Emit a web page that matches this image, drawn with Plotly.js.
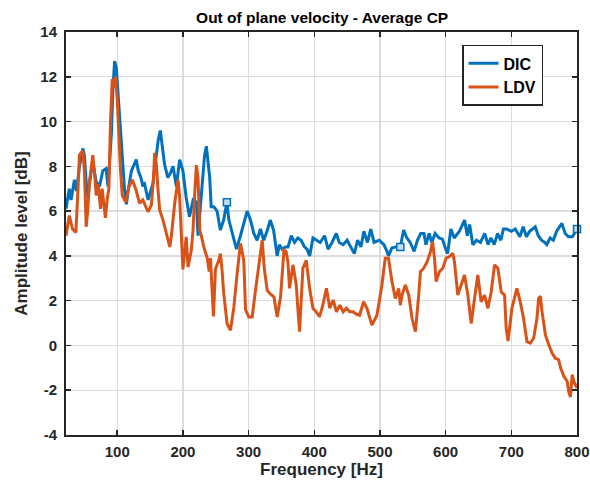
<!DOCTYPE html>
<html>
<head>
<meta charset="utf-8">
<script src="https://cdn.plot.ly/plotly-3.0.1.min.js"></script>
<style>html,body{margin:0;padding:0;background:#fff;}#chart{width:590px;height:489px;}</style>
</head>
<body>
<div id="chart"></div>
<script>
// DIC series (frequency in Hz, amplitude in dB)
const dicFreq = [22,24.6,27,29.7,34.8,38,42.5,47.6,50,52.7,55.3,58,62.8,68,73,78,83,86,88.4,91,93.5,96,98.6,101,103.7,106,108.8,111,114,116.5,121.6,126.7,129,132,136,139,141,144,147,151,154.5,157,159.5,162.5,165.6,168.5,172,177,181,185,190,195,200,205,210,215.5,220.6,223,228,231,233,235.7,238,240.8,243,247,252,257,262,265,267,270,275,281.5,287.6,293,297.8,302.9,308,313,318,323,328,333,338,343.5,347,351,356,360,365,370,375,380,385,389,393,398,403,409,415.7,421,427,433.5,438,444,450,456,461,466,471,475.5,481,486,491,499,506,510.7,513,518,524,531,536,541,546,552,557,562,567,570,575,579,584,590,595,600.7,603,608,613,621,628.8,633,636.5,641.4,647,653,659.5,664.5,669,674,679,684,688,693,700,706,713,718,723,728,736.5,741,746,751,754,759,764,769,777,782,787,793,800];
const dicVal  = [6.1,6.7,7.0,6.5,7.4,6.9,8.0,8.8,8.5,7.3,6.6,7.3,8.2,7.3,7.1,7.8,7.9,7.1,8.3,9.4,11.5,12.7,12.4,11.4,10.4,9.2,8.2,7.0,6.3,6.9,7.8,8.2,8.3,7.8,7.5,7.1,7.3,6.9,6.5,6.9,7.25,7.9,8.6,9.2,9.6,8.8,8.1,7.5,7.7,8.0,7.1,8.3,7.8,6.6,5.75,6.5,6.4,4.9,6.6,7.8,8.5,8.9,8.3,7.5,6.2,6.2,6.0,5.15,5.6,6.0,6.4,5.6,5.0,4.3,4.9,5.5,6.0,5.6,5.0,4.7,5.2,4.7,5.1,5.6,5.15,4.0,4.5,4.3,4.4,4.4,4.9,4.6,4.8,4.7,4.4,4.3,4.0,4.8,4.7,4.6,4.9,4.3,4.6,5.0,4.6,4.5,4.7,4.4,4.1,4.7,4.4,5.1,4.6,5.2,4.6,4.7,4.5,4.2,4.0,4.35,4.4,4.4,5.15,4.8,4.6,4.2,4.7,5.0,5.0,4.5,5.0,4.6,5.0,4.8,4.75,4.25,4.1,5.2,4.8,5.1,5.6,4.9,5.4,4.5,4.7,4.6,5.0,4.5,4.8,4.5,5.0,4.7,5.2,5.2,5.1,5.2,4.85,5.3,4.85,5.1,5.3,4.9,4.7,4.6,4.5,4.8,4.7,5.1,5.45,5.0,4.85,4.85,5.2];
// indices of DIC points drawn with square markers
const dicMarkerIdx = [70, 121, 172];

// LDV series
const ldvFreq = [22,27,32,37,40,42.5,47.6,50,52.7,55,57.8,62.8,66,68,71,74.6,77,82,85,87.3,89.8,92.4,95,97.5,100,102.6,105,107.7,112.8,118,123,128,132,134,139,143,146.8,152,155,157,159.5,162,164.6,169.7,174.8,180,182.3,187.5,192.5,195,197.5,200,205,207.8,212.8,215.4,218,220.5,223,225.6,228,231.8,237,240,242,244,246.5,249.5,254.6,257,259.5,262.2,267.3,272.4,277.5,282.5,287.6,292.7,295.3,300.4,305.5,310.5,315.6,320.7,324,328.4,333,338.5,343.6,348.7,353.8,357,359.8,362.4,367.5,372.6,375,377.6,382.7,387.8,392.9,398,403,408,413,418.5,423.6,428.7,433.8,438.9,444,449,454,459,464,469,475,480.2,487.8,495.4,503,508,513,518.3,523.4,528.5,531,533.6,538.7,543.8,548.9,554,559,561.6,566.7,571.8,577,580,583,585.5,590.6,595.7,600.7,605.8,610.9,613.4,618.5,623.6,628.7,633.8,638.9,644,649,654,659.2,664.3,669.4,674.5,679.5,684.6,689.7,692.2,695,700.9,706,708.5,713.6,718.7,723.8,728.9,734,739,741.6,744.2,746.8,751.9,757,762,767,772,775,780,785,787.6,790,792.7,795,798,800];
const ldvVal  = [4.9,5.8,5.2,5.05,6.8,8.5,8.7,7.8,5.3,6.0,7.3,8.5,7.5,6.7,7.2,6.1,7.0,5.7,6.6,7.0,10.0,11.9,11.5,12.0,11.0,9.2,7.8,6.7,6.4,7.1,7.4,7.0,6.5,6.35,6.5,6.2,5.97,6.27,7.4,8.6,8.1,7.0,6.05,5.6,5.0,4.4,4.85,6.35,7.4,6.65,5.0,3.4,4.85,3.5,4.25,5.15,6.8,8.05,7.5,5.15,4.9,4.4,3.9,3.3,3.9,2.6,1.3,3.4,3.8,4.1,3.4,2.3,0.97,0.68,1.7,3.2,4.56,3.8,1.6,1.27,1.27,2.46,3.67,4.7,3.4,2.46,2.3,2.17,1.27,2.17,4.26,4.2,3.74,2.55,3.6,2.7,1.66,0.62,3.45,3.8,2.55,1.66,1.5,1.28,1.8,2.55,1.66,2.03,1.5,1.8,1.5,1.66,1.5,1.5,1.4,1.35,1.95,1.66,0.91,1.35,2.7,3.9,3.9,2.85,2.1,2.55,1.8,2.25,2.7,2.25,1.2,0.62,2.25,3.3,3.45,3.74,4.19,4.64,3.9,2.85,3.3,3.45,3.9,3.97,4.12,3.74,2.25,2.7,3.15,2.25,0.98,2.1,3.15,1.95,2.25,1.66,2.4,3.6,3.45,2.4,2.25,0.76,0.2,1.66,2.25,2.55,1.95,1.2,0.17,0.1,0.32,1.2,2.1,2.2,1.5,0.47,0.03,-0.34,-0.57,-0.64,-1.0,-1.38,-1.6,-2.1,-2.3,-1.3,-1.6,-1.82,-1.9];

const xTicks = [100,200,300,400,500,600,700,800];
const yTicks = [-4,-2,0,2,4,6,8,10,12,14];

const BLUE = '#0072BD', ORANGE = '#D95319', AXC = '#262626';
const fontFam = '"Liberation Sans", Arial, Helvetica, sans-serif';

const traces = [
  {x: dicFreq, y: dicVal, type: 'scatter', mode: 'lines', name: 'DIC',
   line: {color: BLUE, width: 3}},
  {x: ldvFreq, y: ldvVal, type: 'scatter', mode: 'lines', name: 'LDV',
   line: {color: ORANGE, width: 3}},
  {x: dicMarkerIdx.map(i => dicFreq[i]), y: dicMarkerIdx.map(i => dicVal[i]),
   type: 'scatter', mode: 'markers', showlegend: false, cliponaxis: false,
   marker: {symbol: 'square', size: 7, color: '#c6def2', line: {color: BLUE, width: 1.5}}}
];

const axisCommon = {
  showline: true, linecolor: AXC, linewidth: 2, mirror: 'allticks',
  ticks: 'inside', ticklen: 5, tickwidth: 1.5, tickcolor: AXC,
  showgrid: true, gridcolor: '#dcdcdc', gridwidth: 1.3, zeroline: false,
  tickfont: {family: fontFam, size: 15, color: AXC, weight: 700}
};

const layout = {
  width: 590, height: 489,
  margin: {l: 66, r: 13, t: 32, b: 54},
  paper_bgcolor: '#fff', plot_bgcolor: '#fff',
  title: {text: 'Out of plane velocity - Average CP', x: 0.546, xanchor: 'center', y: 0.965, yanchor: 'middle',
          font: {family: fontFam, size: 15.5, color: '#000', weight: 700}},
  xaxis: Object.assign({}, axisCommon, {
    range: [22, 800], tickvals: xTicks, ticktext: xTicks.map(String), ticklabelstandoff: 2,
    title: {text: 'Frequency [Hz]', standoff: 4, font: {family: fontFam, size: 17, color: AXC, weight: 700}}
  }),
  yaxis: Object.assign({}, axisCommon, {
    range: [-4, 14], tickvals: yTicks, ticktext: yTicks.map(String), ticklabelstandoff: 4,
    title: {text: 'Amplitude level [dB]', standoff: 8, font: {family: fontFam, size: 17, color: AXC, weight: 700}}
  }),
  legend: {x: 0.775, y: 0.968, xanchor: 'left', yanchor: 'top',
           bgcolor: '#fff', bordercolor: AXC, borderwidth: 1.5,
           font: {family: fontFam, size: 16, color: '#000', weight: 700},
           tracegroupgap: 0, itemwidth: 30},
  showlegend: true
};

Plotly.newPlot('chart', traces, layout, {displayModeBar: false, staticPlot: true});
</script>
</body>
</html>
